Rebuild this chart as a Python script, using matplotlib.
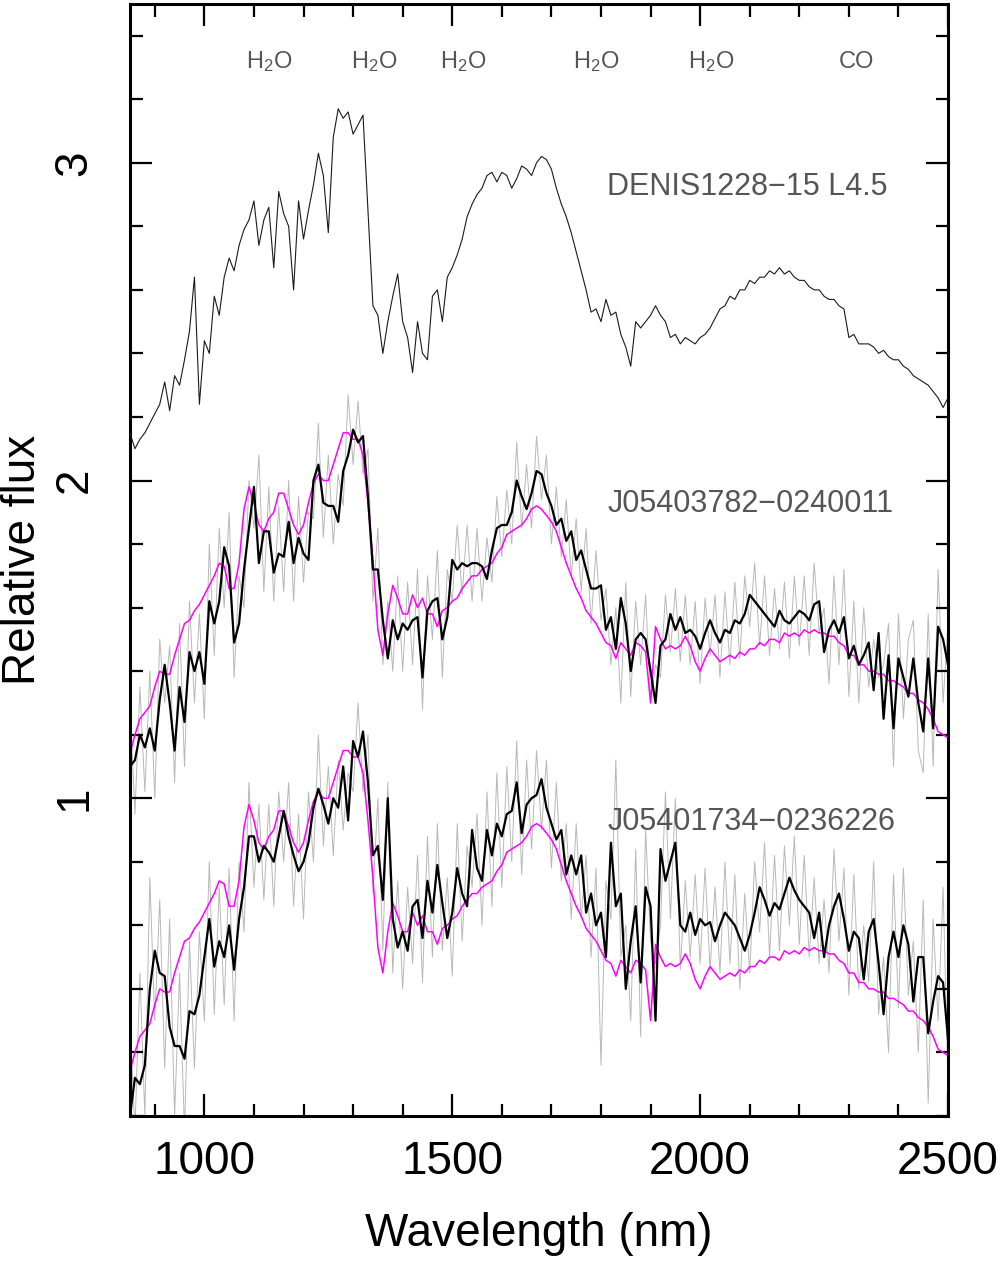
import matplotlib
matplotlib.use("Agg")
import matplotlib.pyplot as plt
import numpy as np
from matplotlib.ticker import MultipleLocator

wavelength = np.arange(850, 2501, 10)

# DENIS1228-15 (L4.5) comparison spectrum
denis = [
    2.15, 2.10, 2.13, 2.15, 2.18, 2.21, 2.24, 2.31, 2.22, 2.33,
    2.30, 2.38, 2.47, 2.64, 2.24, 2.44, 2.40, 2.58, 2.52, 2.64,
    2.70, 2.66, 2.74, 2.79, 2.82, 2.88, 2.74, 2.82, 2.86, 2.67,
    2.91, 2.84, 2.80, 2.60, 2.88, 2.76, 2.85, 2.93, 3.03, 2.96,
    2.78, 3.08, 3.17, 3.14, 3.16, 3.09, 3.12, 3.15, 2.85, 2.55,
    2.52, 2.40, 2.50, 2.58, 2.65, 2.50, 2.45, 2.34, 2.50, 2.40,
    2.38, 2.58, 2.60, 2.50, 2.64, 2.67, 2.71, 2.76, 2.83, 2.87,
    2.90, 2.92, 2.96, 2.97, 2.94, 2.97, 2.96, 2.92, 2.95, 2.99,
    2.98, 2.96, 3.00, 3.02, 3.01, 2.98, 2.92, 2.87, 2.83, 2.78,
    2.72, 2.66, 2.60, 2.53, 2.54, 2.50, 2.57, 2.52, 2.53, 2.46,
    2.42, 2.36, 2.50, 2.48, 2.50, 2.52, 2.55, 2.52, 2.50, 2.45,
    2.46, 2.43, 2.45, 2.44, 2.43, 2.45, 2.46, 2.48, 2.51, 2.54,
    2.55, 2.58, 2.57, 2.60, 2.60, 2.63, 2.62, 2.64, 2.64, 2.66,
    2.65, 2.67, 2.65, 2.66, 2.64, 2.63, 2.63, 2.61, 2.60, 2.60,
    2.58, 2.57, 2.57, 2.55, 2.54, 2.45, 2.46, 2.43, 2.43, 2.43,
    2.42, 2.40, 2.41, 2.39, 2.38, 2.38, 2.36, 2.35, 2.33, 2.32,
    2.31, 2.30, 2.28, 2.26, 2.23, 2.26,
]

# J05403782-0240011: raw (grey) and smoothed (black), offset +1
j0540_3782_raw = [
    1.30, 0.95, 1.35, 1.02, 1.40, 1.00, 1.50, 1.30, 1.48, 1.05,
    1.55, 1.10, 1.62, 1.30, 1.58, 1.25, 1.80, 1.45, 1.85, 1.60,
    1.90, 1.38, 1.70, 1.60, 2.00, 1.85, 2.08, 1.65, 1.98, 1.62,
    1.92, 1.65, 2.00, 1.62, 1.95, 1.68, 1.90, 1.88, 2.18, 1.82,
    2.08, 1.80, 2.02, 1.92, 2.27, 2.05, 2.25, 2.02, 2.10, 1.62,
    1.85, 1.42, 1.62, 1.40, 1.70, 1.40, 1.68, 1.42, 1.72, 1.28,
    1.70, 1.50, 1.78, 1.38, 1.72, 1.62, 1.86, 1.64, 1.86, 1.62,
    1.85, 1.62, 1.82, 1.68, 1.95, 1.76, 1.97, 1.80, 2.12, 1.85,
    2.05, 1.85, 2.14, 1.94, 2.08, 1.80, 1.98, 1.76, 1.94, 1.70,
    1.88, 1.65, 1.85, 1.55, 1.78, 1.56, 1.66, 1.42, 1.60, 1.30,
    1.68, 1.32, 1.62, 1.42, 1.64, 1.30, 1.42, 1.38, 1.64, 1.46,
    1.66, 1.43, 1.64, 1.42, 1.62, 1.36, 1.63, 1.45, 1.64, 1.38,
    1.65, 1.42, 1.68, 1.44, 1.70, 1.54, 1.74, 1.48, 1.70, 1.45,
    1.66, 1.47, 1.68, 1.44, 1.70, 1.48, 1.70, 1.45, 1.74, 1.52,
    1.60, 1.36, 1.70, 1.42, 1.72, 1.32, 1.62, 1.30, 1.60, 1.35,
    1.50, 1.38, 1.42, 1.55, 1.10, 1.58, 1.25, 1.50, 1.56, 1.15,
    1.08, 1.58, 1.10, 1.72, 1.30, 1.55,
]
j0540_3782_smooth = [
    1.10, 1.12, 1.20, 1.16, 1.22, 1.15, 1.31, 1.42, 1.30, 1.15,
    1.35, 1.24, 1.46, 1.40, 1.46, 1.36, 1.62, 1.55, 1.62, 1.79,
    1.73, 1.49, 1.55, 1.72, 1.85, 1.98, 1.74, 1.84, 1.84, 1.71,
    1.77, 1.76, 1.87, 1.74, 1.82, 1.77, 1.75, 2.00, 2.05, 1.93,
    1.92, 1.92, 1.87, 2.03, 2.08, 2.16, 2.12, 2.14, 1.95, 1.72,
    1.72, 1.56, 1.44, 1.56, 1.50, 1.55, 1.53, 1.56, 1.57, 1.38,
    1.59, 1.62, 1.63, 1.50, 1.57, 1.75, 1.72, 1.74, 1.73, 1.74,
    1.74, 1.73, 1.69, 1.78, 1.85, 1.86, 1.86, 1.90, 2.00, 1.95,
    1.91, 1.96, 2.03, 2.02, 1.96, 1.92, 1.86, 1.88, 1.81, 1.84,
    1.75, 1.78, 1.72, 1.66, 1.66, 1.67, 1.53, 1.57, 1.47, 1.63,
    1.55, 1.40, 1.50, 1.52, 1.50, 1.40, 1.30, 1.48, 1.50, 1.58,
    1.53, 1.57, 1.52, 1.53, 1.51, 1.47, 1.52, 1.56, 1.52, 1.49,
    1.53, 1.52, 1.56, 1.55, 1.58, 1.64, 1.62, 1.60, 1.58, 1.56,
    1.54, 1.59, 1.56, 1.55, 1.57, 1.59, 1.58, 1.56, 1.61, 1.62,
    1.46, 1.53, 1.56, 1.52, 1.57, 1.44, 1.48, 1.42, 1.45, 1.49,
    1.34, 1.52, 1.25, 1.45, 1.22, 1.44, 1.38, 1.32, 1.44, 1.30,
    1.21, 1.44, 1.22, 1.54, 1.50, 1.42,
]

# J05401734-0236226: raw (grey) and smoothed (black), no offset
j0540_1734_raw = [
    0.30, -0.05, 0.45, 0.00, 0.75, 0.30, 0.68, 0.15, 0.62, 0.00,
    0.45, -0.05, 0.55, 0.15, 0.58, 0.30, 0.80, 0.32, 0.72, 0.35,
    0.78, 0.30, 0.80, 0.58, 1.05, 0.72, 0.98, 0.68, 0.98, 0.66,
    1.02, 0.80, 1.05, 0.66, 0.95, 0.62, 1.02, 0.80, 1.20, 0.85,
    1.10, 0.82, 1.12, 0.90, 1.08, 1.02, 1.30, 1.02, 1.20, 0.70,
    1.00, 0.52, 1.05, 0.45, 0.74, 0.40, 0.72, 0.48, 0.82, 0.42,
    0.88, 0.50, 0.92, 0.52, 0.75, 0.44, 0.92, 0.55, 0.85, 0.72,
    0.95, 0.60, 1.02, 0.66, 1.08, 0.72, 1.10, 0.80, 1.18, 0.76,
    1.12, 0.84, 1.15, 0.90, 1.12, 0.78, 1.05, 0.74, 0.92, 0.62,
    0.92, 0.62, 0.82, 0.50, 0.78, 0.16, 0.74, 0.62, 1.12, 0.50,
    0.60, 0.30, 0.84, 0.25, 0.90, 0.55, 0.48, 0.60, 1.02, 0.62,
    1.00, 0.46, 0.74, 0.50, 0.76, 0.48, 0.78, 0.46, 0.72, 0.45,
    0.80, 0.48, 0.76, 0.40, 0.70, 0.45, 0.80, 0.58, 0.86, 0.50,
    0.82, 0.52, 0.85, 0.60, 0.88, 0.54, 0.82, 0.50, 0.75, 0.48,
    0.68, 0.45, 0.84, 0.55, 0.78, 0.38, 0.76, 0.40, 0.60, 0.42,
    0.80, 0.32, 0.50, 0.20, 0.76, 0.34, 0.78, 0.38, 0.55, 0.20,
    0.68, 0.04, 0.62, 0.30, 0.72, 0.10,
]
j0540_1734_smooth = [
    0.00, 0.12, 0.10, 0.16, 0.40, 0.52, 0.45, 0.44, 0.28, 0.22,
    0.22, 0.18, 0.33, 0.32, 0.38, 0.50, 0.62, 0.47, 0.55, 0.50,
    0.60, 0.46, 0.62, 0.72, 0.88, 0.88, 0.80, 0.85, 0.83, 0.80,
    0.88, 0.96, 0.88, 0.82, 0.77, 0.80, 0.86, 0.97, 1.03, 0.98,
    0.92, 1.00, 0.97, 1.10, 0.93, 1.18, 1.13, 1.21, 1.05, 0.82,
    0.85, 0.68, 1.00, 0.62, 0.53, 0.58, 0.52, 0.66, 0.68, 0.56,
    0.74, 0.64, 0.79, 0.67, 0.56, 0.64, 0.78, 0.70, 0.66, 0.90,
    0.78, 0.74, 0.90, 0.82, 0.92, 0.88, 0.95, 0.96, 1.05, 0.89,
    0.98, 1.00, 1.01, 1.06, 0.97, 0.92, 0.87, 0.90, 0.76, 0.82,
    0.76, 0.82, 0.64, 0.70, 0.60, 0.64, 0.50, 0.86, 0.66, 0.70,
    0.40, 0.55, 0.66, 0.42, 0.72, 0.66, 0.30, 0.84, 0.74, 0.80,
    0.86, 0.60, 0.58, 0.64, 0.57, 0.62, 0.60, 0.61, 0.55, 0.60,
    0.64, 0.62, 0.60, 0.56, 0.52, 0.57, 0.64, 0.72, 0.68, 0.63,
    0.67, 0.65, 0.70, 0.75, 0.71, 0.68, 0.66, 0.64, 0.56, 0.64,
    0.50, 0.60, 0.66, 0.70, 0.62, 0.52, 0.58, 0.56, 0.43, 0.58,
    0.62, 0.48, 0.32, 0.50, 0.58, 0.50, 0.60, 0.54, 0.36, 0.50,
    0.50, 0.26, 0.36, 0.44, 0.42, 0.24,
]

# best-fit template (magenta), drawn under each object with its offset
template = [
    0.14, 0.20, 0.25, 0.27, 0.29, 0.35, 0.40, 0.39, 0.39, 0.45,
    0.50, 0.55, 0.56, 0.59, 0.61, 0.64, 0.67, 0.70, 0.74, 0.73,
    0.66, 0.66, 0.74, 0.91, 0.98, 0.93, 0.86, 0.84, 0.88, 0.90,
    0.96, 0.96, 0.91, 0.86, 0.83, 0.86, 0.93, 0.99, 1.02, 1.00,
    1.00, 1.05, 1.10, 1.15, 1.15, 1.13, 1.13, 1.08, 0.93, 0.75,
    0.53, 0.45, 0.58, 0.67, 0.63, 0.58, 0.58, 0.64, 0.60, 0.63,
    0.58, 0.58, 0.54, 0.59, 0.60, 0.62, 0.63, 0.66, 0.68, 0.70,
    0.70, 0.72, 0.73, 0.74, 0.77, 0.79, 0.83, 0.84, 0.85, 0.86,
    0.88, 0.91, 0.92, 0.91, 0.89, 0.87, 0.84, 0.79, 0.74, 0.70,
    0.66, 0.63, 0.59, 0.57, 0.55, 0.52, 0.49, 0.48, 0.44, 0.49,
    0.47, 0.45, 0.49, 0.48, 0.46, 0.30, 0.54, 0.50, 0.47, 0.48,
    0.47, 0.48, 0.51, 0.48, 0.43, 0.40, 0.44, 0.47, 0.45, 0.43,
    0.44, 0.45, 0.44, 0.46, 0.45, 0.47, 0.47, 0.49, 0.48, 0.50,
    0.50, 0.49, 0.52, 0.51, 0.52, 0.51, 0.53, 0.52, 0.53, 0.52,
    0.52, 0.51, 0.51, 0.49, 0.48, 0.45, 0.45, 0.42, 0.42, 0.40,
    0.40, 0.39, 0.39, 0.37, 0.37, 0.36, 0.35, 0.33, 0.33, 0.31,
    0.30, 0.28, 0.25, 0.21, 0.20, 0.19,
]
template_offsets = [1.0, 0.0]

object_names = ["DENIS1228\u221215 L4.5", "J05403782\u22120240011", "J05401734\u22120236226"]
name_levels = [2.925, 1.925, 0.925]

band_names = ["H$_2$O", "H$_2$O", "H$_2$O", "H$_2$O", "H$_2$O", "CO"]
band_centres = [1130, 1342, 1523, 1791, 2022, 2315]

plt.rcParams['font.family'] = ['Liberation Sans', 'DejaVu Sans']
plt.rcParams['mathtext.default'] = 'regular'

fig = plt.figure(figsize=(10.03, 12.71), dpi=100)
ax = fig.add_axes([0.1296, 0.122, 0.8156, 0.8749])

# grey raw spectra first, then template, then smoothed
for raw in (j0540_3782_raw, j0540_1734_raw):
    ax.plot(wavelength, raw, color='#b8b8b8', lw=0.7, zorder=1)
for off in template_offsets:
    ax.plot(wavelength, np.array(template) + off, color='#ff00ff', lw=1.1, zorder=2)
for sm in (j0540_3782_smooth, j0540_1734_smooth):
    ax.plot(wavelength, sm, color='black', lw=1.6, zorder=3)
ax.plot(wavelength, denis, color='#1a1a1a', lw=0.8, zorder=3)

for name, lev in zip(object_names, name_levels):
    ax.text(1813, lev, name, color='#555555', fontsize=22, va='center', ha='left')
for band, pos in zip(band_names, band_centres):
    ax.text(pos, 3.318, band, color='#555555', fontsize=17, ha='center', va='center')

ax.set_xlim(850, 2500)
ax.set_ylim(0, 3.5)
ax.set_xticks([1000, 1500, 2000, 2500])
ax.xaxis.set_minor_locator(MultipleLocator(100))
ax.set_yticks([1, 2, 3])
ax.yaxis.set_minor_locator(MultipleLocator(0.2))
ax.tick_params(which='both', direction='in', top=True, right=True, width=1.6)
ax.tick_params(which='major', length=16, labelsize=33)
ax.tick_params(which='minor', length=9)
ax.tick_params(axis='x', pad=17)
ax.tick_params(axis='y', pad=24, labelrotation=90)
for lab in ax.get_yticklabels():
    lab.set_va('center')
for sp in ax.spines.values():
    sp.set_linewidth(2.2)

ax.set_xlabel("Wavelength (nm)", fontsize=33)
ax.set_ylabel("Relative flux", fontsize=33)
ax.xaxis.set_label_coords(0.5, -0.086)
ax.yaxis.set_label_coords(-0.104, 0.5)

fig.savefig("out.png", dpi=100)
